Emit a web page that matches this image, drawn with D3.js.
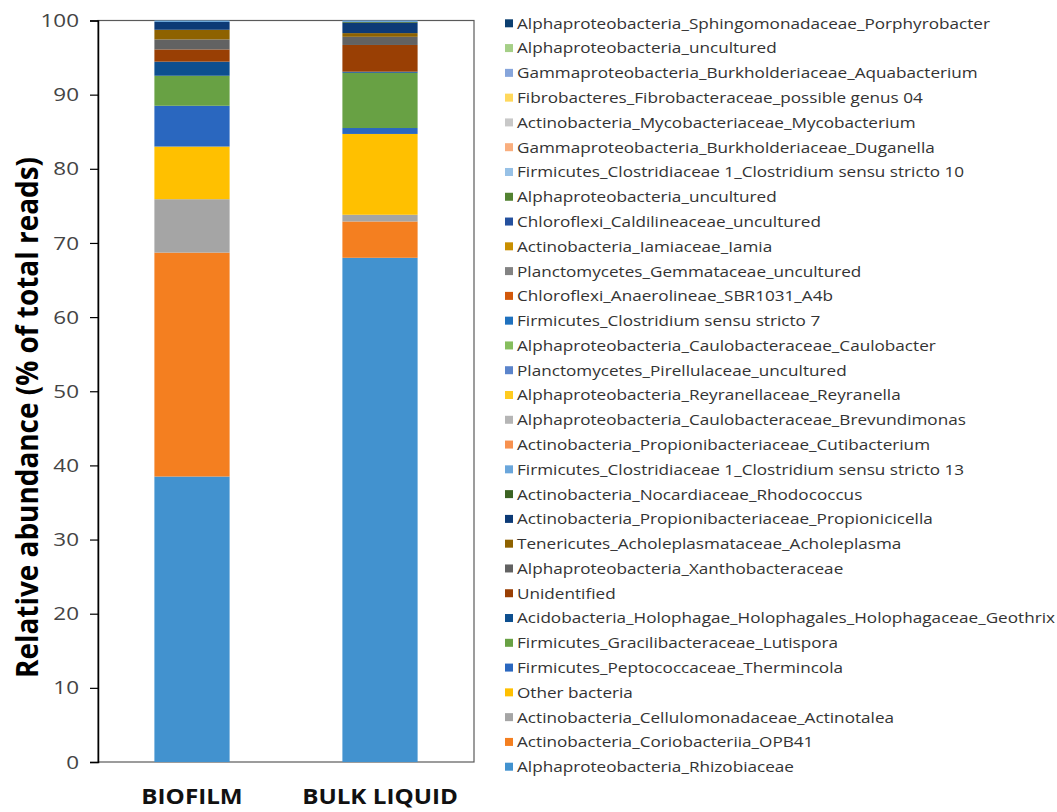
<!DOCTYPE html>
<html>
<head>
<meta charset="utf-8">
<script src="https://cdn.jsdelivr.net/npm/d3@7"></script>
<style>
  html, body { margin: 0; padding: 0; background: #fff; }
  svg { display: block; }
  text { font-family: "Open Sans", "DejaVu Sans", sans-serif; }
</style>
</head>
<body>
<svg id="chart" width="1057" height="812"></svg>
<script>
// ---------------- DATA ----------------
const categories = ["BIOFILM", "BULK LIQUID"];

// stack order, bottom -> top
const taxa = [
  "Alphaproteobacteria_Rhizobiaceae",
  "Actinobacteria_Coriobacteriia_OPB41",
  "Actinobacteria_Cellulomonadaceae_Actinotalea",
  "Other bacteria",
  "Firmicutes_Peptococcaceae_Thermincola",
  "Firmicutes_Gracilibacteraceae_Lutispora",
  "Acidobacteria_Holophagae_Holophagales_Holophagaceae_Geothrix",
  "Unidentified",
  "Alphaproteobacteria_Xanthobacteraceae",
  "Tenericutes_Acholeplasmataceae_Acholeplasma",
  "Actinobacteria_Propionibacteriaceae_Propionicicella",
  "Actinobacteria_Nocardiaceae_Rhodococcus",
  "Firmicutes_Clostridiaceae 1_Clostridium sensu stricto 13",
  "Actinobacteria_Propionibacteriaceae_Cutibacterium",
  "Alphaproteobacteria_Caulobacteraceae_Brevundimonas",
  "Alphaproteobacteria_Reyranellaceae_Reyranella",
  "Planctomycetes_Pirellulaceae_uncultured",
  "Alphaproteobacteria_Caulobacteraceae_Caulobacter",
  "Firmicutes_Clostridium sensu stricto 7",
  "Chloroflexi_Anaerolineae_SBR1031_A4b",
  "Planctomycetes_Gemmataceae_uncultured",
  "Actinobacteria_Iamiaceae_Iamia",
  "Chloroflexi_Caldilineaceae_uncultured",
  "Alphaproteobacteria_uncultured",
  "Firmicutes_Clostridiaceae 1_Clostridium sensu stricto 10",
  "Gammaproteobacteria_Burkholderiaceae_Duganella",
  "Actinobacteria_Mycobacteriaceae_Mycobacterium",
  "Fibrobacteres_Fibrobacteraceae_possible genus 04",
  "Gammaproteobacteria_Burkholderiaceae_Aquabacterium",
  "Alphaproteobacteria_uncultured",
  "Alphaproteobacteria_Sphingomonadaceae_Porphyrobacter"
];

const taxaColors = [
  "#4292CF", "#F47F20", "#A5A5A5", "#FFC000", "#2A67BF", "#68A144",
  "#0D4F8F", "#993F04", "#626262", "#8E6200", "#0C3A76", "#3C6323",
  "#6AA6DB", "#F7914F", "#B5B5B5", "#FFCB1F", "#5B84CB", "#86BE5E",
  "#1F71BE", "#D2580A", "#838383", "#C98F00", "#24509E", "#528231",
  "#97C1E6", "#F9AE7E", "#C8C8C8", "#FFD85C", "#86A5DB", "#A5CF87",
  "#0C3F70"
];

// relative abundance (% of total reads), same order as taxa
const biofilm = [
  38.5, 30.2, 7.2, 7.1, 5.5, 4.05, 1.9, 1.65, 1.35, 1.3, 1.05, 0, 0.2,
  0, 0, 0, 0, 0, 0, 0, 0, 0, 0, 0, 0, 0, 0, 0, 0, 0, 0
];
const bulkLiquid = [
  68.0, 4.9, 0.9, 10.9, 0.8, 7.45, 0.15, 3.6, 1.1, 0.5, 1.4, 0.1, 0.2,
  0, 0, 0, 0, 0, 0, 0, 0, 0, 0, 0, 0, 0, 0, 0, 0, 0, 0
];

const yTicks = [0, 10, 20, 30, 40, 50, 60, 70, 80, 90, 100];
const yTitle = "Relative abundance (% of total reads)";

// ---------------- LAYOUT ----------------
const svg = d3.select("#chart");
const plot = { left: 98, right: 474, top: 20.5, bottom: 762 };
const STRETCH = 1.18; // horizontal stretch of the reference's glyphs

const x = d3.scaleBand()
  .domain(categories)
  .range([plot.left, plot.right])
  .paddingInner(0.6)
  .paddingOuter(0.3);

const y = d3.scaleLinear()
  .domain([0, 100])
  .range([plot.bottom, plot.top]);

const keys = taxa.map((_, i) => i);
const rows = categories.map((c, j) => {
  const src = j === 0 ? biofilm : bulkLiquid;
  const r = { cat: c };
  keys.forEach(k => { r[k] = src[k]; });
  return r;
});
const stacked = d3.stack().keys(keys)(rows);

function stretchText(sel, k) {
  sel.each(function () {
    const len = this.getComputedTextLength();
    d3.select(this)
      .attr("textLength", len * k)
      .attr("lengthAdjust", "spacingAndGlyphs");
  });
}

// plot frame
svg.append("rect")
  .attr("x", plot.left).attr("y", plot.top)
  .attr("width", plot.right - plot.left)
  .attr("height", plot.bottom - plot.top)
  .attr("fill", "none")
  .attr("stroke", "#5a5a5a")
  .attr("stroke-width", 1.2);

// bars
svg.append("g")
  .selectAll("g")
  .data(stacked)
  .join("g")
  .attr("fill", d => taxaColors[d.key])
  .selectAll("rect")
  .data(d => d.filter(s => s[1] - s[0] > 0))
  .join("rect")
  .attr("x", d => x(d.data.cat))
  .attr("width", x.bandwidth())
  .attr("y", d => y(d[1]))
  .attr("height", d => y(d[0]) - y(d[1]));

// y axis
const yAxis = svg.append("g")
  .attr("transform", `translate(${plot.left},0)`)
  .call(d3.axisLeft(y).tickValues(yTicks).tickSize(8).tickPadding(11).tickFormat(d3.format("d")));
yAxis.select(".domain").attr("stroke", "#000").attr("stroke-width", 1.5);
yAxis.selectAll(".tick line").attr("stroke", "#000").attr("stroke-width", 1.2);
yAxis.selectAll(".tick text")
  .attr("fill", "#444")
  .style("font-size", "19px")
  .style("font-family", "'Open Sans', sans-serif")
  .call(stretchText, STRETCH);

// x category labels
const xAxis = svg.append("g")
  .attr("transform", `translate(0,${plot.bottom})`)
  .call(d3.axisBottom(x).tickSize(0).tickPadding(0));
xAxis.select(".domain").remove();
xAxis.selectAll(".tick text")
  .attr("y", 42)
  .attr("dy", 0)
  .attr("fill", "#111")
  .style("font-size", "22px")
  .style("font-weight", "bold")
  .style("font-family", "'Open Sans', sans-serif")
  .call(stretchText, 1.1);

// y title
const titleLen = 521;
svg.append("text")
  .attr("transform", `translate(38,417.5) scale(${STRETCH},1) rotate(-90)`)
  .attr("text-anchor", "middle")
  .attr("fill", "#000")
  .attr("textLength", titleLen)
  .attr("lengthAdjust", "spacingAndGlyphs")
  .style("font-size", "25px")
  .style("font-weight", "bold")
  .text(yTitle);

// legend (top = last stack series)
const legendY = d3.scalePoint()
  .domain(keys.slice().reverse())
  .range([23.3, 766.7]);

const legend = svg.append("g").attr("class", "legend");
const items = legend.selectAll("g")
  .data(keys)
  .join("g")
  .attr("transform", k => `translate(505,${legendY(k)})`);

items.append("rect")
  .attr("x", 0).attr("y", -4)
  .attr("width", 8).attr("height", 8)
  .attr("fill", k => taxaColors[k]);

const legendTexts = items.append("text")
  .attr("x", 12)
  .attr("dy", "0.36em")
  .attr("fill", "#333")
  .style("font-size", "15px")
  .text(k => taxa[k]);

// fit horizontal stretch from the longest line
let maxLen = 0;
legendTexts.each(function () { maxLen = Math.max(maxLen, this.getComputedTextLength()); });
const kLegend = (1055 - 517) / maxLen;
legendTexts.call(stretchText, kLegend);
</script>
</body>
</html>
